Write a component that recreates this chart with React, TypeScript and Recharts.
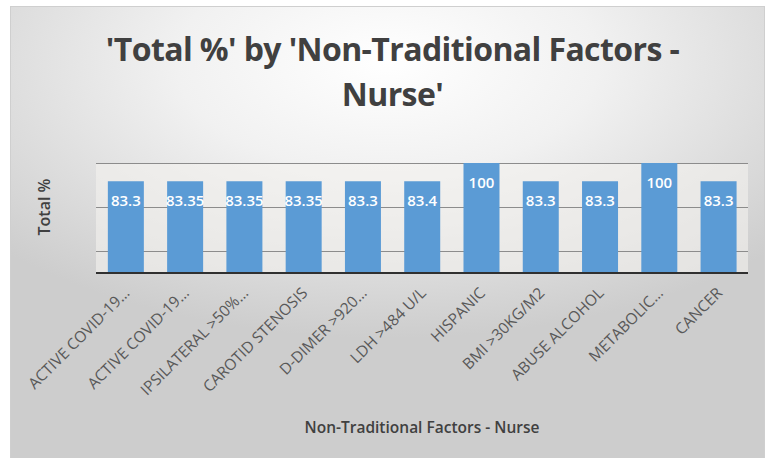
import React from 'react';
import { BarChart, Bar, XAxis, YAxis, CartesianGrid, LabelList } from 'recharts';

const categories: string[] = [
  'ACTIVE COVID-19…',
  'ACTIVE COVID-19…',
  'IPSILATERAL >50%…',
  'CAROTID STENOSIS',
  'D-DIMER >920…',
  'LDH >484 U/L',
  'HISPANIC',
  'BMI >30KG/M2',
  'ABUSE ALCOHOL',
  'METABOLIC…',
  'CANCER',
];

const totals: number[] = [83.3, 83.35, 83.35, 83.35, 83.3, 83.4, 100, 83.3, 83.3, 100, 83.3];

const yTicks: number[] = [0, 20, 40, 60, 80, 100];

const data = categories.map((name, i) => ({ name, total: totals[i] }));

const FONT = '"Open Sans", "Noto Sans", sans-serif';

const RotatedTick = (props: any) => {
  const { x, y, payload } = props;
  return (
    <g transform={`translate(${x + 5},${y + 13})`}>
      <text
        x={0}
        y={0}
        textAnchor="end"
        transform="rotate(-45)"
        fontFamily={FONT}
        fontSize={15.5}
        fill="#595959"
      >
        {payload.value}
      </text>
    </g>
  );
};

const App: React.FC = () => {
  return (
    <div
      style={{
        position: 'absolute',
        left: 0,
        top: 0,
        width: 773,
        height: 458,
        background: '#ffffff',
        overflow: 'hidden',
      }}
    >
      <div
        style={{
          position: 'absolute',
          left: 10,
          top: 6,
          width: 753,
          height: 460,
          border: '1px solid #cfcfcf',
          background:
            'radial-gradient(ellipse 70% 60% at 50% 12%, #ffffff 0%, #f1f1f1 40%, #d9d9d9 80%, #cdcdcd 100%)',
        }}
      />
      <div
        style={{
          position: 'absolute',
          left: 0,
          top: 0,
          width: 773,
          textAlign: 'center',
          fontFamily: FONT,
          fontWeight: 700,
          fontSize: 32,
          lineHeight: '45px',
          paddingTop: 26,
          color: '#404040',
          paddingLeft: 12,
          boxSizing: 'border-box',
          letterSpacing: -0.6,
        }}
      >
        'Total %' by 'Non-Traditional Factors -
        <br />
        Nurse'
      </div>
      <div style={{ position: 'absolute', left: 0, top: 0 }}>
        <BarChart
          width={773}
          height={458}
          data={data}
          margin={{ top: 163, right: 25, left: 96, bottom: 0 }}
          barCategoryGap="20%"
        >
          <CartesianGrid
            vertical={false}
            horizontalValues={yTicks}
            stroke="#8c8c8c"
            strokeWidth={1}
            shapeRendering="crispEdges"
            fill="#f3f1ee"
            fillOpacity={0.6}
          />
          <YAxis hide domain={[0, 100]} ticks={yTicks} />
          <XAxis
            dataKey="name"
            interval={0}
            height={185}
            tick={<RotatedTick />}
            tickLine={false}
            axisLine={{ stroke: '#303030', strokeWidth: 2 }}
          />
          <Bar dataKey="total" fill="#5b9bd5" isAnimationActive={false}>
            <LabelList
              dataKey="total"
              position="insideTop"
              offset={14}
              fill="#ffffff"
              fontFamily={FONT}
              fontSize={15}
              fontWeight={600}
            />
          </Bar>
        </BarChart>
      </div>
      <div
        style={{
          position: 'absolute',
          left: 96,
          width: 652,
          top: 416,
          textAlign: 'center',
          fontFamily: FONT,
          fontWeight: 600,
          fontSize: 15.5,
          color: '#404040',
        }}
      >
        Non-Traditional Factors - Nurse
      </div>
      <div
        style={{
          position: 'absolute',
          left: 44,
          top: 207,
          transform: 'translate(-50%, -50%) rotate(-90deg)',
          whiteSpace: 'nowrap',
          fontFamily: FONT,
          fontWeight: 600,
          fontSize: 16,
          color: '#404040',
        }}
      >
        Total %
      </div>
    </div>
  );
};

export default App;
